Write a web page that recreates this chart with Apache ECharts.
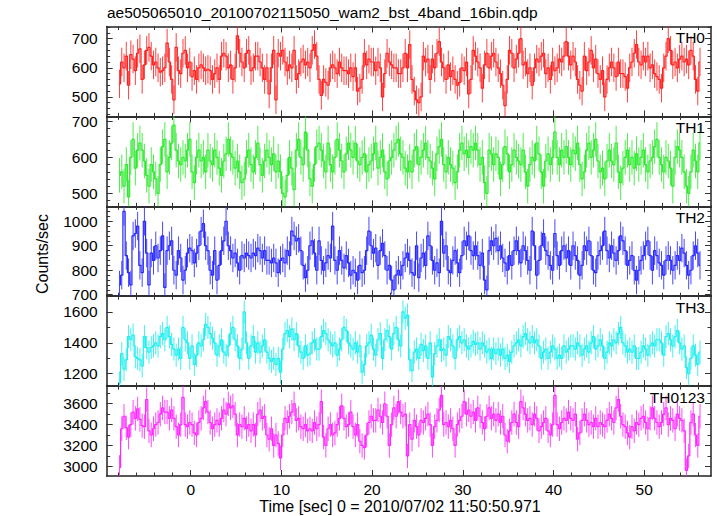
<!DOCTYPE html>
<html><head><meta charset="utf-8">
<script src="https://cdn.jsdelivr.net/npm/echarts@6/dist/echarts.min.js"></script>
<style>html,body{margin:0;padding:0;background:#fff}#c{width:717px;height:516px}</style>
</head><body><div id="c"></div>
<script>
const titleText = 'ae505065010_20100702115050_wam2_bst_4band_16bin.qdp';
const xTitle = 'Time [sec] 0 = 2010/07/02 11:50:50.971';
const yTitle = 'Counts/sec';
const bandNames = ['TH0', 'TH1', 'TH2', 'TH3', 'TH0123'];
const T0 = -7.85, BIN = 0.25;

const th0 = [545,620,600,640,540,645,630,590,650,665,
560,610,660,670,640,610,620,600,585,590,
600,685,620,560,490,670,590,580,650,660,
600,620,570,590,560,600,610,600,590,595,
590,560,580,600,560,640,650,640,600,610,
560,600,710,650,620,600,650,660,590,600,
640,640,620,600,560,600,510,600,660,490,
650,640,660,620,590,610,600,660,560,580,
620,630,610,620,600,660,680,640,560,505,
560,550,540,600,610,600,580,620,600,590,
590,580,600,570,600,520,530,560,650,610,
630,620,620,590,620,600,500,580,650,620,
610,600,600,580,580,600,650,600,680,560,
520,490,480,500,640,620,630,560,630,600,
650,690,620,600,560,610,570,590,560,540,
550,600,590,620,510,560,660,640,620,600,
530,610,650,600,640,650,620,600,580,540,
470,560,660,650,600,630,650,700,610,620,
580,600,540,600,630,620,640,650,580,600,
560,620,590,600,630,620,640,690,640,610,
640,620,560,540,520,640,590,620,660,600,
630,580,560,590,500,560,600,620,600,570,
620,580,580,570,530,600,620,650,680,620,
610,640,620,640,600,610,580,570,560,530,
600,640,700,660,610,620,600,630,640,620,
630,610,660,640,560,520,620];

const th1 = [550,560,520,580,490,600,650,570,620,640,
620,590,550,520,580,560,540,500,580,630,
650,560,600,640,690,620,590,580,600,590,
620,650,560,530,600,620,590,600,560,620,
590,580,620,600,570,550,590,610,650,610,
600,570,590,560,530,540,600,620,580,560,
600,640,580,550,590,620,600,580,610,560,
590,560,500,490,550,600,570,510,620,650,
600,580,670,620,540,520,580,630,640,620,
590,560,640,580,560,600,650,620,590,560,
610,640,620,600,640,590,580,600,610,560,
580,590,610,640,570,600,620,560,540,590,
600,620,640,650,610,600,570,560,590,560,
620,630,580,600,620,640,600,590,570,540,
610,630,650,580,560,600,580,570,530,560,
620,640,610,620,600,630,620,640,620,580,
600,530,500,620,610,580,610,600,540,580,
630,610,560,580,620,600,590,580,620,560,
520,580,600,590,640,610,560,520,590,610,
580,600,670,600,580,620,600,630,600,580,
620,610,640,580,540,560,620,640,600,620,
650,590,560,570,540,590,620,590,580,640,
560,530,570,600,620,580,600,570,610,580,
600,620,580,560,590,600,630,650,600,580,
560,600,590,570,520,600,630,620,600,560,
520,500,560,620,590,560,640];

const th2 = [740,780,1040,860,790,740,940,950,980,820,
790,1000,870,740,870,840,900,850,880,940,
730,880,900,920,800,780,880,850,760,800,
870,890,880,830,870,900,960,990,900,880,
800,780,880,760,820,880,920,1000,900,880,
850,870,830,800,860,850,870,860,850,870,
860,890,880,850,880,840,840,830,850,830,
790,840,850,830,880,860,960,940,920,930,
880,820,770,800,900,920,870,800,920,840,
800,830,860,850,980,840,800,880,840,810,
860,830,780,800,790,760,820,790,800,880,
960,900,870,890,820,880,910,860,800,820,
760,720,780,800,780,820,850,870,840,790,
780,900,770,850,870,820,940,900,840,800,
830,790,1000,870,900,800,790,840,880,830,
790,860,920,900,940,880,860,900,860,820,
870,760,720,880,920,900,930,880,900,850,
830,800,860,820,880,920,880,830,900,880,
840,800,960,900,780,840,900,950,880,860,
820,800,950,860,820,880,900,850,880,820,
900,860,840,780,820,900,880,920,860,800,
790,860,880,900,960,880,850,900,870,840,
880,940,920,880,820,840,860,800,760,800,
840,860,900,920,860,800,880,860,830,820,
780,840,860,840,800,820,860,840,890,870,
820,780,800,860,900,870,820];

const th3 = [1140,1330,1230,1290,1440,1420,1450,1310,1300,1290,
1250,1440,1370,1340,1370,1380,1400,1380,1440,1460,
1420,1500,1440,1390,1360,1320,1360,1300,1500,1420,
1400,1300,1380,1260,1320,1400,1380,1420,1520,1500,
1460,1430,1400,1320,1380,1420,1340,1320,1380,1460,
1500,1420,1380,1300,1360,1600,1400,1300,1380,1440,
1340,1400,1340,1380,1420,1340,1300,1280,1300,1260,
1300,1210,1360,1460,1480,1440,1490,1420,1460,1380,
1340,1300,1380,1320,1330,1400,1420,1360,1360,1440,
1480,1460,1420,1400,1380,1400,1320,1360,1420,1500,
1480,1400,1380,1360,1400,1340,1380,1210,1260,1380,
1400,1450,1360,1320,1420,1460,1300,1420,1480,1440,
1360,1460,1500,1420,1380,1600,1560,
1580,1290,1220,1340,1360,1300,1390,1350,1380,1300,
1400,1180,1330,1380,1420,1350,1360,1320,1440,1420,
1380,1300,1420,1440,1400,1420,1380,1360,1380,1410,1390,
1400,1360,1400,1380,1340,1360,1300,1360,1330,1360,
1320,1360,1300,1320,1280,1340,1380,1400,1420,1380,
1440,1460,1420,1400,1440,1400,1420,1380,1300,1340,1360,
1300,1340,1380,1360,1300,1320,1300,1380,1340,1360,
1380,1380,1360,1400,1380,1320,1360,1380,1340,1400,
1440,1360,1380,1420,1380,1300,1340,1400,1380,1420,1400,
1460,1500,1400,1380,1340,1360,1340,1380,1300,1300,
1340,1380,1360,1320,1380,1400,1380,1420,1420,1400,1320,
1440,1460,1420,1380,1440,1480,1400,1360,1380,1240,
1200,1300,1380,1320,1260,1340];

const th0123 = [2990,3360,3480,3370,3280,3400,3520,3460,3550,3450,
3390,3380,3640,3340,3300,3360,3400,3420,3500,3560,
3520,3520,3460,3540,3460,3380,3300,3400,3660,3400,
3380,3420,3400,3320,3300,3420,3460,3560,3620,3520,
3420,3360,3400,3440,3400,3460,3540,3500,3600,3560,
3580,3500,3300,3400,3380,3460,3360,3400,3340,3400,
3300,3500,3540,3460,3480,3300,3260,3360,3200,3300,
3220,3080,3300,3460,3420,3480,3520,3600,3440,3460,
3380,3360,3400,3340,3360,3340,3420,3360,3400,3620,
3280,3200,3360,3400,3300,3320,3400,3460,3580,3460,
3380,3400,3520,3380,3300,3400,3240,3200,3180,3300,
3420,3480,3440,3440,3540,3480,3420,3600,3480,3200,
3400,3560,3480,3620,3520,3480,3500,3100,3400,
3260,3440,3380,3300,3440,3420,3460,3500,3400,3200,
3380,3440,3540,3680,3400,3420,3380,3440,3360,3200,3400,
3440,3480,3620,3500,3540,3480,3520,3440,3560,3480,
3420,3360,3480,3560,3460,3500,3440,3500,3420,3480,
3300,3240,3340,3420,3500,3420,3380,3620,3560,3500,3440,
3460,3400,3500,3460,3340,3380,3420,3460,3340,3300,
3400,3680,3400,3360,3420,3460,3440,3520,3460,3440,
3500,3260,3320,3440,3500,3440,3400,3420,3380,3460,3380,
3420,3400,3380,3440,3500,3460,3420,3560,3640,3480,
3400,3380,3320,3280,3380,3340,3420,3400,3460,3480,
3420,3360,3460,3560,3460,3420,3380,3420,3500,3560,3400,
3460,3440,3360,3500,3460,3440,3340,2960,3100,3420,
3500,3300,3200,3480];

const bands = [th0, th1, th2, th3, th0123];
const errHalf = [49, 48, 58, 75, 117];

// axis settings
const yMin = [433, 464, 694, 1120, 2907];
const yMax = [742, 714, 1061, 1702, 3769];
const yMajor = [[500,600,700],[500,600,700],[700,800,900,1000],[1200,1400,1600],[3000,3200,3400,3600]];
const yMinorStep = [20, 20, 20, 100, 100];
const xMajor = [0, 10, 20, 30, 40, 50];
const xMinorStep = 2;
const X_MIN = -9.26, X_MAX = 57.36;

const colors = ['#ff2020', '#2eea2e', '#2828ff', '#20eeee', '#ff28ff'];
const FONT = '"Liberation Sans", Arial, Helvetica, sans-serif';
const tops = [26.5, 116.4, 206.3, 296.2, 386.1];
const H = 89.9;

function stepList(lo, hi, step) {
  const out = [];
  for (let v = Math.ceil(lo / step) * step; v <= hi + 1e-9; v += step) out.push(+v.toFixed(6));
  return out;
}
const xMinor = stepList(X_MIN, X_MAX, xMinorStep);
const plain = v => String(Math.round(v));

const grids = [], xAxes = [], yAxes = [], series = [];
const frameLine = {show: true, onZero: false, lineStyle: {color: '#222', width: 1.5}};
const noLine = {show: false, onZero: false};
const tickStyle = {color: '#333', width: 1};

for (let g = 0; g < 5; g++) {
  grids.push({left: 106.7, right: 6, top: tops[g], height: H, containLabel: false});
  const xb = {gridIndex: g, type: 'value', min: X_MIN, max: X_MAX, splitLine: {show: false}, axisLabel: {show: false}};
  const lbl = g === 4 ? {show: true, customValues: xMajor, margin: 5, fontSize: 15.5, fontFamily: FONT, color: '#000', formatter: plain} : {show: false};
  xAxes.push(Object.assign({}, xb, {position: 'bottom', axisLine: frameLine, axisTick: {show: true, inside: true, length: 6, customValues: xMajor, lineStyle: tickStyle}, axisLabel: lbl}));
  xAxes.push(Object.assign({}, xb, {position: 'bottom', axisLine: noLine, axisTick: {show: true, inside: true, length: 3.5, customValues: xMinor, lineStyle: tickStyle}}));
  xAxes.push(Object.assign({}, xb, {position: 'top', axisLine: frameLine, axisTick: {show: true, inside: true, length: 6, customValues: xMajor, lineStyle: tickStyle}}));
  xAxes.push(Object.assign({}, xb, {position: 'top', axisLine: noLine, axisTick: {show: true, inside: true, length: 3.5, customValues: xMinor, lineStyle: tickStyle}}));

  const yMinorVals = stepList(yMin[g], yMax[g], yMinorStep[g]);
  const yb = {gridIndex: g, type: 'value', min: yMin[g], max: yMax[g], splitLine: {show: false}, axisLabel: {show: false}};
  yAxes.push(Object.assign({}, yb, {position: 'left', axisLine: frameLine, axisTick: {show: true, inside: true, length: 6, customValues: yMajor[g], lineStyle: tickStyle},
    axisLabel: {show: true, customValues: yMajor[g], margin: 9, fontSize: 15.5, fontFamily: FONT, color: '#000', formatter: plain}}));
  yAxes.push(Object.assign({}, yb, {position: 'left', axisLine: noLine, axisTick: {show: true, inside: true, length: 3.5, customValues: yMinorVals, lineStyle: tickStyle}}));
  yAxes.push(Object.assign({}, yb, {position: 'right', axisLine: frameLine, axisTick: {show: true, inside: true, length: 6, customValues: yMajor[g], lineStyle: tickStyle}}));
  yAxes.push(Object.assign({}, yb, {position: 'right', axisLine: noLine, axisTick: {show: true, inside: true, length: 3.5, customValues: yMinorVals, lineStyle: tickStyle}}));

  const vals = bands[g];
  const pts = vals.map((v, i) => [T0 + i * BIN, v]);
  const errPts = vals.map((v, i) => [T0 + i * BIN, v, errHalf[g]]);

  series.push({
    type: 'custom', xAxisIndex: g * 4, yAxisIndex: g * 4, data: errPts, z: 2,
    renderItem: (function (gi) {
      return function (params, api) {
        const t = api.value(0), v = api.value(1), e = api.value(2);
        const lo = Math.max(v - e, yMin[gi]), hi = Math.min(v + e, yMax[gi]);
        const p1 = api.coord([t, lo]), p2 = api.coord([t, hi]);
        return {type: 'line', shape: {x1: p1[0], y1: p1[1], x2: p2[0], y2: p2[1]},
          style: {stroke: colors[gi], lineWidth: 1, opacity: 0.85}};
      };
    })(g)
  });
  series.push({
    type: 'line', xAxisIndex: g * 4, yAxisIndex: g * 4, data: pts, step: 'middle',
    showSymbol: false, symbol: 'none', clip: true, z: 3,
    lineStyle: {color: colors[g], width: 1.2}
  });
}

const graphics = [
  {type: 'text', x: 107, y: 12, style: {text: titleText, font: '15.5px ' + FONT, fill: '#000', textAlign: 'left', textVerticalAlign: 'middle'}},
  {type: 'text', x: 400, y: 506, style: {text: xTitle, font: '16px ' + FONT, fill: '#000', textAlign: 'center', textVerticalAlign: 'middle'}},
  {type: 'text', x: 42, y: 254, rotation: Math.PI / 2, style: {text: yTitle, font: '16px ' + FONT, fill: '#000', textAlign: 'center', textVerticalAlign: 'middle'}}
];
for (let g = 0; g < 5; g++) {
  graphics.push({type: 'text', x: 705, y: tops[g] + 11, z: 100, style: {text: bandNames[g], font: '15.5px ' + FONT, fill: '#000', textAlign: 'right', textVerticalAlign: 'middle'}});
}

const chart = echarts.init(document.getElementById('c'), null, {renderer: 'svg', width: 717, height: 516});
chart.setOption({
  animation: false,
  backgroundColor: '#fff',
  grid: grids, xAxis: xAxes, yAxis: yAxes, series: series, graphic: graphics
});
</script>
</body></html>
